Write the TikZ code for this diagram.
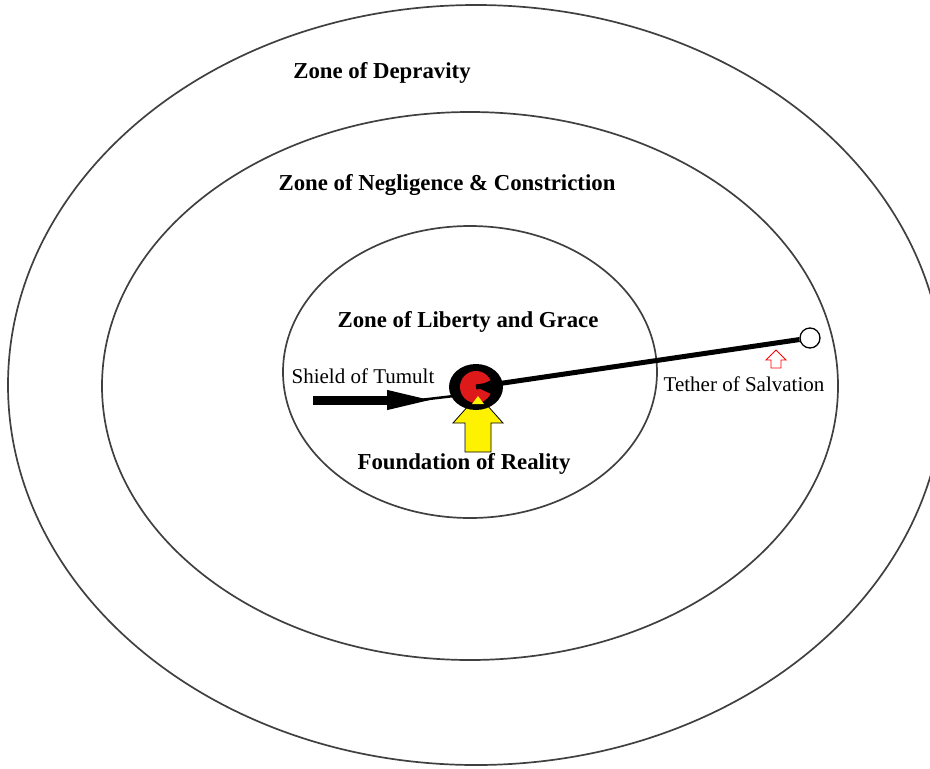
\documentclass[tikz,border=0pt]{standalone}
\usepackage{fontspec}
\setmainfont{Liberation Serif}
\usetikzlibrary{arrows.meta,shapes.geometric}

\begin{document}
\begin{tikzpicture}[x=1pt,y=-1pt]
	\tikzset{zona/.style={font=\fontsize{22.8}{26}\bfseries\selectfont,inner sep=0pt},
		etiqueta/.style={font=\fontsize{21}{24}\selectfont,inner sep=0pt},
		anillo/.style={line width=1.7pt,black!75}}
	\useasboundingbox (0,0) rectangle (930,769);
	\draw[anillo] (476,385) ellipse [x radius=468pt,y radius=380pt];
	\draw[anillo] (470,386) ellipse [x radius=368pt,y radius=274pt];
	\draw[anillo] (470,372) ellipse [x radius=187pt,y radius=146pt];
	\node[zona] (depravidad) at (382,73) {Zone of Depravity};
	\node[zona] (negligencia) at (447,185) {Zone of Negligence \& Constriction};
	\node[zona] (libertad) at (468,322) {Zone of Liberty and Grace};
	\node[zona] (fundamento) at (464,464) {Foundation of Reality};
	\node[etiqueta] (escudo) at (363,376) {Shield of Tumult};
	\node[etiqueta] (cuerda) at (744,384) {Tether of Salvation};
	% flecha amarilla
	\draw[fill=yellow,line width=0.8pt] (465,452) -- (465,423) -- (453,423) -- (478,395)
		-- (503,423) -- (491,423) -- (491,452) -- cycle;
	% nucleo
	\node[ellipse,fill=black,minimum width=54pt,minimum height=46pt,inner sep=0pt] (nucleo) at (476,387) {};
	\fill[red!85!black!90] (nucleo.center) -- ++(25:16pt) arc[start angle=25,end angle=335,radius=16pt] -- cycle;
	\fill[yellow] (472,404) -- (478,396) -- (484,404) -- cycle;
	% cuerda
	\node[circle,draw,fill=white,line width=1.3pt,minimum size=20pt,inner sep=0pt] (ancla) at (810,338) {};
	\draw[line width=5pt] (nucleo.center) -- (ancla);
	\draw[red,line width=0.9pt] (771,368) -- (771,360) -- (766,360) -- (776,350) -- (786,360)
		-- (781,360) -- (781,368) -- cycle;
	% escudo
	\coordinate (inicio) at (313,400);
	\draw[line width=2.5pt] (420,400) -- ([xshift=2pt]nucleo.200);
	\draw[line width=9pt,-{Triangle[length=50pt,width=17pt]}] (inicio) -- (437,400);
\end{tikzpicture}
\end{document}
